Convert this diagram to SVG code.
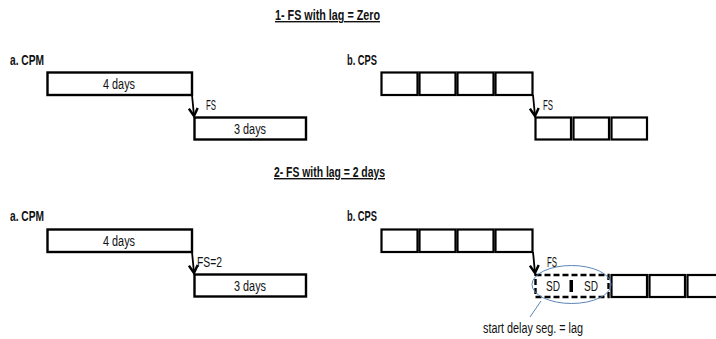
<svg xmlns="http://www.w3.org/2000/svg" width="716" height="339" viewBox="0 0 716 339">
<defs>
<style>
text{font-family:"Liberation Sans",Arial,sans-serif;fill:#111}
.t{font-size:14px;font-weight:bold;text-decoration:underline}
.h{font-size:14px;font-weight:bold}
.l{font-size:14px}
.box{fill:#fff;stroke:#000;stroke-width:2.4}
.cell{fill:#fff;stroke:#000;stroke-width:2.2}
.dash{fill:#fff;stroke:#000;stroke-width:2.4;stroke-dasharray:6 3}
.arr{fill:none;stroke:#000;stroke-width:1.8;marker-end:url(#v)}
.blue{fill:none;stroke:#5b86b8;stroke-width:1}
</style>
<marker id="v" viewBox="0 0 10 10" refX="8" refY="5" markerWidth="11" markerHeight="11" orient="auto" markerUnits="userSpaceOnUse">
<path d="M1,1 L8,5 L1,9" fill="none" stroke="#000" stroke-width="2.2"/>
</marker>
</defs>
<g id="titles">
<text class="t" x="275" y="20" textLength="105" lengthAdjust="spacingAndGlyphs">1- FS with lag = Zero</text>
<text class="t" x="274" y="177" textLength="111" lengthAdjust="spacingAndGlyphs">2- FS with lag = 2 days</text>
</g>
<g id="s1-cpm">
<text class="h" x="10" y="65" textLength="34" lengthAdjust="spacingAndGlyphs">a. CPM</text>
<g id="s1-cpm-a"><rect class="box" x="47.5" y="72.5" width="144.5" height="22.5"/><text class="l" x="103" y="88.5" textLength="32" lengthAdjust="spacingAndGlyphs">4 days</text></g>
<g id="s1-cpm-b"><rect class="box" x="194.5" y="117.5" width="111.5" height="22"/><text class="l" x="234" y="133.5" textLength="32" lengthAdjust="spacingAndGlyphs">3 days</text></g>
</g>
<g id="s1-cps">
<text class="h" x="347" y="65" textLength="30" lengthAdjust="spacingAndGlyphs">b. CPS</text>
<g id="s1-cps-a">
<rect class="cell" x="381.5" y="72.5" width="36" height="22.5"/>
<rect class="cell" x="419.5" y="72.5" width="36" height="22.5"/>
<rect class="cell" x="457.5" y="72.5" width="36" height="22.5"/>
<rect class="cell" x="495.5" y="72.5" width="37" height="22.5"/>
</g>
<g id="s1-cps-b">
<rect class="cell" x="535.5" y="117.5" width="35.5" height="22"/>
<rect class="cell" x="573.5" y="117.5" width="35.5" height="22"/>
<rect class="cell" x="611.5" y="117.5" width="35.5" height="22"/>
</g>
</g>
<g id="s2-cpm">
<text class="h" x="10" y="221" textLength="34" lengthAdjust="spacingAndGlyphs">a. CPM</text>
<g id="s2-cpm-a"><rect class="box" x="47.5" y="229.5" width="144.5" height="22.5"/><text class="l" x="103" y="245.5" textLength="32" lengthAdjust="spacingAndGlyphs">4 days</text></g>
<g id="s2-cpm-b"><rect class="box" x="194.5" y="274.5" width="111.5" height="22"/><text class="l" x="234" y="290.5" textLength="32" lengthAdjust="spacingAndGlyphs">3 days</text></g>
</g>
<g id="s2-cps">
<text class="h" x="347" y="221" textLength="30" lengthAdjust="spacingAndGlyphs">b. CPS</text>
<g id="s2-cps-a">
<rect class="cell" x="381.5" y="229.5" width="36" height="22.5"/>
<rect class="cell" x="419.5" y="229.5" width="36" height="22.5"/>
<rect class="cell" x="457.5" y="229.5" width="36" height="22.5"/>
<rect class="cell" x="495.5" y="229.5" width="37" height="22.5"/>
</g>
<g id="s2-cps-sd">
<rect class="dash" x="535.5" y="275" width="73" height="22"/>
<rect x="569.5" y="280" width="3.5" height="12" fill="#000"/>
<text class="l" x="546" y="291" textLength="14" lengthAdjust="spacingAndGlyphs">SD</text>
<text class="l" x="584" y="291" textLength="14" lengthAdjust="spacingAndGlyphs">SD</text>
</g>
<g id="s2-cps-b">
<rect class="cell" x="611.5" y="275" width="35.5" height="22"/>
<rect class="cell" x="649.5" y="275" width="35.5" height="22"/>
<rect class="cell" x="687.5" y="275" width="36" height="22"/>
</g>
<g id="note">
<ellipse class="blue" cx="571.5" cy="284.5" rx="39.5" ry="19"/>
<text class="l" x="483" y="333" textLength="100" lengthAdjust="spacingAndGlyphs">start delay seg. = lag</text>
</g>
</g>
<g id="connectors">
<path class="arr" d="M192,95 Q193,105 194,116"/>
<text class="l" x="206" y="110" textLength="10" lengthAdjust="spacingAndGlyphs">FS</text>
<path class="arr" d="M533,95 Q534,105 535,116"/>
<text class="l" x="543" y="110" textLength="10" lengthAdjust="spacingAndGlyphs">FS</text>
<path class="arr" d="M192,252 Q193,262 194,273"/>
<text class="l" x="197" y="267" textLength="25" lengthAdjust="spacingAndGlyphs">FS=2</text>
<path class="arr" d="M533,252 Q534,262 535,273"/>
<text class="l" x="547" y="267" textLength="10" lengthAdjust="spacingAndGlyphs">FS</text>
<path class="blue" d="M541,301 L530,317"/>
</g>
</svg>
